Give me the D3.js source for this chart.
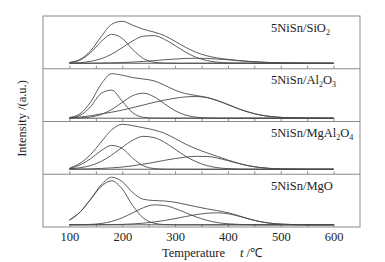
<!DOCTYPE html>
<html>
<head>
<meta charset="utf-8">
<script src="https://cdn.jsdelivr.net/npm/d3@7"></script>
<style>
  html, body { margin: 0; padding: 0; background: #fff; }
  svg { display: block; font-family: 'Liberation Serif', 'Times New Roman', serif; }
</style>
</head>
<body>
<div id="chart"></div>
<script>
// TPR profiles, one panel per support: envelope + three fitted peaks

const temps = [100, 120, 140, 160, 180, 200, 220, 240, 260, 280, 300, 320, 340, 360, 380, 400, 420, 440, 460, 480, 500, 550, 600];

const sio2Envelope = [0.8, 3.8, 12.4, 26.5, 39, 42, 38, 34, 31.2, 27.6, 21.9, 15.9, 10.9, 7.5, 5.3, 3.9, 2.7, 1.8, 1.2, 0.7, 0.4, 0.1, 0];
const sio2Peak1 = [0.6, 3.2, 10.4, 21.7, 28.9, 24.8, 13.6, 4.8, 1.0, 0.2, 0, 0, 0, 0, 0, 0, 0, 0, 0, 0, 0, 0, 0];
const sio2Peak2 = [0.2, 0.6, 1.9, 4.5, 9.1, 15.6, 22.4, 27.1, 27.6, 23.9, 17.7, 11.1, 5.9, 2.7, 1.1, 0.4, 0.1, 0, 0, 0, 0, 0, 0];
const sio2Peak3 = [0, 0, 0.1, 0.2, 0.4, 0.7, 1.2, 1.8, 2.6, 3.5, 4.2, 4.8, 5.0, 4.8, 4.2, 3.5, 2.6, 1.8, 1.2, 0.7, 0.4, 0.1, 0];

const al2o3Envelope = [0.7, 4.5, 16, 34, 44.5, 43, 40.6, 39.2, 37.4, 33.0, 28.0, 24.6, 22.7, 20.8, 17.7, 13.7, 9.5, 6.0, 3.4, 1.8, 0.8, 0.1, 0];
const al2o3Peak1 = [0.3, 2.8, 11.5, 24.8, 28.1, 16.9, 5.4, 0.9, 0.1, 0, 0, 0, 0, 0, 0, 0, 0, 0, 0, 0, 0, 0, 0];
const al2o3Peak2 = [0.1, 0.3, 1.2, 3.7, 8.7, 15.9, 22.6, 25.0, 21.5, 14.4, 7.5, 3.1, 1.0, 0.2, 0, 0, 0, 0, 0, 0, 0, 0, 0];
const al2o3Peak3 = [0.3, 1.2, 2.4, 4.3, 6.0, 8.1, 10.6, 13.2, 15.8, 18.1, 20.0, 21.3, 21.7, 20.6, 17.6, 13.6, 9.4, 5.9, 3.3, 1.7, 0.8, 0.1, 0];

const mgal2o4Envelope = [1.0, 6.0, 14.6, 27.2, 39.4, 45, 43.6, 41.5, 39.3, 36.0, 30.7, 25.1, 20.4, 16.5, 12.8, 9.2, 6.0, 3.4, 1.8, 0.8, 0.3, 0, 0];
const mgal2o4Peak1 = [0.5, 4.3, 10.5, 18.6, 23.8, 20.8, 11.0, 3.5, 0.7, 0.1, 0, 0, 0, 0, 0, 0, 0, 0, 0, 0, 0, 0, 0];
const mgal2o4Peak2 = [0.5, 1.5, 3.7, 7.8, 14.2, 22.0, 29.1, 32.9, 31.7, 27.0, 20.0, 13.0, 7.5, 3.7, 1.6, 0.6, 0.2, 0, 0, 0, 0, 0, 0];
const mgal2o4Peak3 = [0.1, 0.2, 0.4, 0.8, 1.4, 2.2, 3.5, 5.1, 6.9, 8.9, 10.7, 12.1, 12.9, 12.8, 11.2, 8.6, 5.8, 3.4, 1.8, 0.8, 0.3, 0, 0];

const mgoEnvelope = [4.8, 12.7, 25.7, 39.7, 47.6, 43.1, 32.1, 25.5, 24.3, 23.8, 22.5, 20.4, 18.1, 16.0, 14.2, 12.1, 9.1, 5.9, 3.3, 1.6, 0.7, 0, 0];
const mgoPeak1 = [4.8, 12.6, 25.3, 38.3, 44.0, 35.7, 19.1, 6.8, 1.6, 0.2, 0, 0, 0, 0, 0, 0, 0, 0, 0, 0, 0, 0, 0];
const mgoPeak2 = [0, 0.1, 0.4, 1.3, 3.4, 7.0, 12.1, 17.1, 19.9, 19.3, 16.3, 12.1, 7.9, 4.5, 2.2, 1.0, 0.4, 0.1, 0, 0, 0, 0, 0];
const mgoPeak3 = [0, 0, 0, 0.1, 0.2, 0.4, 0.9, 1.6, 2.8, 4.3, 6.2, 8.3, 10.2, 11.5, 12.0, 11.1, 8.7, 5.8, 3.3, 1.6, 0.7, 0, 0];

// sample names, odd entries are subscripts
const sampleLabels = [
    ['5NiSn/SiO', '2'],
    ['5NiSn/Al', '2', 'O', '3'],
    ['5NiSn/MgAl', '2', 'O', '4'],
    ['5NiSn/MgO']
];

const minorTicks = [100, 150, 200, 250, 300, 350, 400, 450, 500, 550, 600];
const xTickLabels = [100, 200, 300, 400, 500, 600];
const baselineRange = [100, 600];

const panels = [
    { label: sampleLabels[0], curves: [sio2Envelope, sio2Peak1, sio2Peak2, sio2Peak3] },
    { label: sampleLabels[1], curves: [al2o3Envelope, al2o3Peak1, al2o3Peak2, al2o3Peak3] },
    { label: sampleLabels[2], curves: [mgal2o4Envelope, mgal2o4Peak1, mgal2o4Peak2, mgal2o4Peak3] },
    { label: sampleLabels[3], curves: [mgoEnvelope, mgoPeak1, mgoPeak2, mgoPeak3] }
];

function render() {
    const width = 385;
    const height = 262;
    const margin = { top: 16, right: 25, bottom: 35, left: 43 };
    const frameColor = '#8a8a8a';
    const lineColor = '#4a4a4a';
    // how far each panel's zero line sits above its lower edge
    const lift = [5.5, 3.3, 5.0, 2.2];

    const svg = d3.select('#chart')
        .append('svg')
        .attr('width', width)
        .attr('height', height);

    const innerH = height - margin.top - margin.bottom;
    const panelH = innerH / panels.length;

    const x = d3.scaleLinear()
        .domain([50, 650])
        .range([margin.left, width - margin.right]);

    const line = d3.line().curve(d3.curveMonotoneX);

    panels.forEach((panel, i) => {
        const top = margin.top + i * panelH;
        const y = d3.scaleLinear()
            .domain([-lift[i], panelH - lift[i]])
            .range([top + panelH, top]);

        // inward ticks on each panel's bottom edge
        const ticks = svg.append('g')
            .attr('transform', `translate(0,${top + panelH})`)
            .call(d3.axisBottom(x).tickValues(minorTicks).tickSize(-3).tickFormat(''));
        ticks.select('.domain').remove();
        ticks.selectAll('line').attr('stroke', frameColor);

        // zero line
        svg.append('path')
            .datum(baselineRange.map(t => [x(t), y(0)]))
            .attr('fill', 'none')
            .attr('stroke', lineColor)
            .attr('stroke-width', 0.9)
            .attr('d', line);

        panel.curves.forEach(values => {
            svg.append('path')
                .datum(temps.map((t, j) => [x(t), y(values[j])]))
                .attr('fill', 'none')
                .attr('stroke', lineColor)
                .attr('stroke-width', 0.9)
                .attr('d', line);
        });

        // sample name with subscripts
        const label = svg.append('text')
            .attr('x', 271)
            .attr('y', top + 15.5)
            .attr('font-size', '12.5px')
            .attr('fill', '#222');
        panel.label.forEach((part, k) => {
            const sub = k % 2 === 1;
            label.append('tspan')
                .attr('dy', k === 0 ? 0 : (sub ? 3 : -3))
                .attr('font-size', sub ? '8px' : '12.5px')
                .text(part);
        });

        if (i > 0) {
            svg.append('line')
                .attr('x1', margin.left)
                .attr('x2', width - margin.right)
                .attr('y1', top)
                .attr('y2', top)
                .attr('stroke', frameColor);
        }
    });

    // outer frame
    svg.append('rect')
        .attr('x', margin.left)
        .attr('y', margin.top)
        .attr('width', width - margin.left - margin.right)
        .attr('height', innerH)
        .attr('fill', 'none')
        .attr('stroke', frameColor);

    // tick labels under the last panel
    const xAxis = svg.append('g')
        .attr('transform', `translate(0,${height - margin.bottom})`)
        .call(d3.axisBottom(x).tickValues(xTickLabels).tickSize(0).tickPadding(5).tickFormat(d3.format('d')));
    xAxis.select('.domain').remove();
    xAxis.selectAll('text')
        .attr('font-family', "'Liberation Serif', 'Times New Roman', serif")
        .attr('font-size', '12.5px')
        .attr('fill', '#222');

    // axis titles
    const xTitle = svg.append('text')
        .attr('x', 162)
        .attr('y', 257)
        .attr('font-size', '12.5px')
        .attr('fill', '#222');
    xTitle.append('tspan').text('Temperature');
    xTitle.append('tspan').attr('x', 240).attr('font-style', 'italic').text('t');
    xTitle.append('tspan').text(' /\u2103');

    svg.append('text')
        .attr('transform', `translate(26,${(margin.top + height - margin.bottom) / 2 - 3}) rotate(-90)`)
        .attr('text-anchor', 'middle')
        .attr('font-size', '12.5px')
        .attr('fill', '#222')
        .text('Intensity /(a.u.)');
}

render();
</script>
</body>
</html>
